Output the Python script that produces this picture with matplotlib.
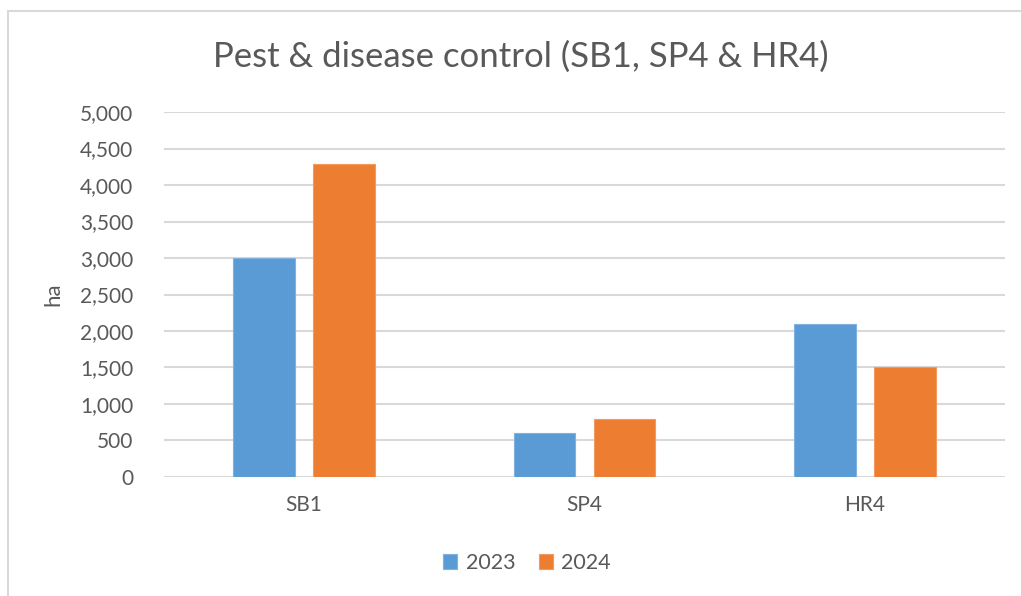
import matplotlib.pyplot as plt
import numpy as np
from matplotlib.patches import Rectangle
from matplotlib.ticker import FuncFormatter

plt.rcParams['font.family'] = ['Lato', 'DejaVu Sans']

categories = ['SB1', 'SP4', 'HR4']
years = ['2023', '2024']
values_2023 = [3000, 600, 2100]
values_2024 = [4290, 800, 1500]
yticks = [0, 500, 1000, 1500, 2000, 2500, 3000, 3500, 4000, 4500, 5000]

blue = '#5B9BD5'
orange = '#ED7D31'
text_grey = '#595959'
grid_grey = '#D9D9D9'

fig = plt.figure(figsize=(10.21, 5.96), dpi=100)
ax = fig.add_axes([0.1606, 0.1997, 0.8237, 0.6123])

# outer chart frame (right and bottom edges fall outside the picture)
fig.patches.append(Rectangle((8 / 1021, -0.1), 1.2, 1 - 11 / 596 + 0.1,
                             transform=fig.transFigure, fill=False,
                             edgecolor=grid_grey, linewidth=1.5))

x = np.arange(len(categories))
width = 0.22
offset = 0.143
ax.bar(x - offset, values_2023, width, color=blue, edgecolor='#7FB2E0',
       linewidth=0.8, label=years[0], zorder=3)
ax.bar(x + offset, values_2024, width, color=orange, edgecolor='#F29A60',
       linewidth=0.8, label=years[1], zorder=3)

ax.set_xlim(-0.5, 2.5)
ax.set_ylim(0, 5000)
ax.set_yticks(yticks)
ax.yaxis.set_major_formatter(FuncFormatter(lambda v, p: f'{int(v):,}'))
ax.set_xticks(x)
ax.set_xticklabels(categories)
ax.tick_params(axis='both', length=0, labelsize=15, colors=text_grey)
ax.tick_params(axis='y', pad=22)
ax.tick_params(axis='x', pad=13)
ax.grid(axis='y', color=grid_grey, linewidth=1.5, zorder=0)
ax.set_axisbelow(True)
for s in ax.spines.values():
    s.set_visible(False)

ax.set_ylabel('ha', fontsize=16, color=text_grey, labelpad=12)

fig.text(521 / 1021, 1 - 57 / 596, 'Pest & disease control (SB1, SP4 & HR4)',
         ha='center', va='center', fontsize=25, color=text_grey)

fig.legend(loc='center', bbox_to_anchor=(527 / 1021, 1 - 563 / 596), ncol=2,
           frameon=False, fontsize=15.5, labelcolor=text_grey,
           handlelength=0.65, handleheight=0.65, handletextpad=0.4,
           columnspacing=1.1)

fig.savefig('out.png', dpi=100)
